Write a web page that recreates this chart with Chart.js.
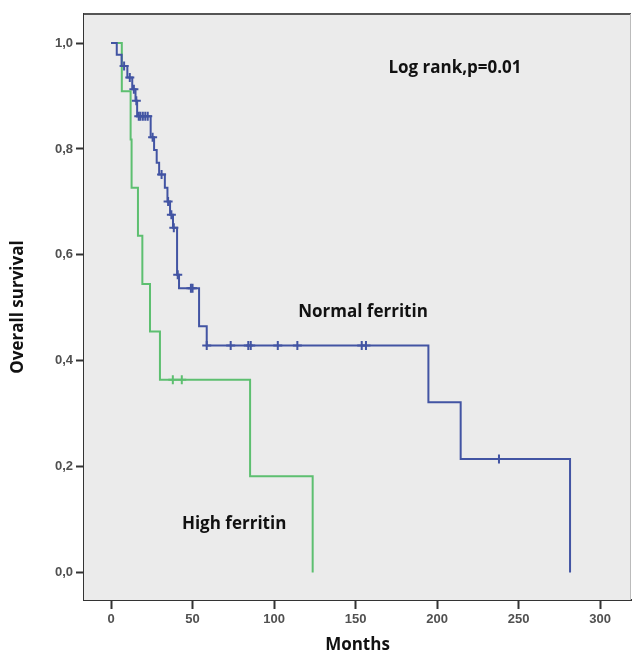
<!DOCTYPE html>
<html>
<head>
<meta charset="utf-8">
<script src="https://cdn.jsdelivr.net/npm/chart.js@4"></script>
<style>
  html, body { margin: 0; padding: 0; background: #fff; }
  #wrap { width: 632px; height: 655px; }
</style>
</head>
<body>
<div id="wrap"><canvas id="canvas" width="632" height="655"></canvas></div>
<script>
// Kaplan-Meier steps (months, survival after the event)
var normalT = [0, 3.5, 6.5, 10, 13, 15, 16, 24.3, 26.4, 28, 29.5, 33, 34.6, 36.2, 38, 40.5, 41.7, 54, 58.7, 194.7, 214.5, 281.6];
var normalS = [1.0, 0.978, 0.957, 0.935, 0.913, 0.891, 0.862, 0.822, 0.798, 0.774, 0.752, 0.727, 0.701, 0.676, 0.651, 0.5625, 0.537, 0.465, 0.429, 0.3215, 0.2145, 0];
var normalCensT = [8, 11.5, 14, 15.5, 17, 18, 19.5, 21, 22.5, 25.5, 31, 35, 37, 38.5, 40.9, 49, 50, 58.7, 73.4, 84.2, 85.7, 102.3, 114.3, 153.8, 156.4, 238];
var normalCensS = [0.957, 0.935, 0.913, 0.891, 0.862, 0.862, 0.862, 0.862, 0.862, 0.822, 0.752, 0.701, 0.676, 0.651, 0.5625, 0.537, 0.537, 0.429, 0.429, 0.429, 0.429, 0.429, 0.429, 0.429, 0.429, 0.2145];

var highT = [0, 6.6, 12, 12.6, 16.5, 19.2, 23.9, 30, 85.3, 123.7];
var highS = [1.0, 0.909, 0.818, 0.727, 0.636, 0.545, 0.455, 0.364, 0.182, 0];
var highCensT = [37.9, 43.4];
var highCensS = [0.364, 0.364];

var xTicks = [0, 50, 100, 150, 200, 250, 300];
var yTicks = [0, 0.2, 0.4, 0.6, 0.8, 1.0];

var notes = ['Log rank,p=0.01', 'Normal ferritin', 'High ferritin'];

var blue = '#4254a3';
var green = '#5dbf70';

function pts(t, s) {
    var out = [];
    for (var i = 0; i < t.length; i++) out.push({x: t[i], y: s[i]});
    return out;
}

// plot background, frame and the text notes
var decor = {
    id: 'decor',
    beforeDatasetsDraw: function(chart) {
        var a = chart.chartArea, ctx = chart.ctx;
        ctx.save();
        ctx.fillStyle = '#ebebeb';
        ctx.fillRect(a.left, a.top, a.right - a.left, a.bottom - a.top);
        ctx.strokeStyle = '#555';
        ctx.lineWidth = 2;
        ctx.beginPath();
        ctx.moveTo(a.left, a.top);
        ctx.lineTo(a.right, a.top);
        ctx.stroke();
        ctx.strokeStyle = '#bbb';
        ctx.lineWidth = 1;
        ctx.beginPath();
        ctx.moveTo(a.right - 0.5, a.top);
        ctx.lineTo(a.right - 0.5, a.bottom);
        ctx.stroke();
        ctx.restore();
    },
    afterDatasetsDraw: function(chart) {
        var ctx = chart.ctx, xs = chart.scales.x, ys = chart.scales.y;
        var pos = [[211, 0.953], [154.6, 0.492], [75.5, 0.092]];
        ctx.save();
        ctx.fillStyle = '#111';
        ctx.font = 'bold 17px "Open Sans"';
        ctx.textAlign = 'center';
        ctx.textBaseline = 'middle';
        for (var i = 0; i < notes.length; i++) {
            ctx.fillText(notes[i], xs.getPixelForValue(pos[i][0]), ys.getPixelForValue(pos[i][1]));
        }
        ctx.restore();
    }
};

var tickFont = {family: '"Liberation Sans"', size: 13, weight: 'bold'};
var titleFont = {family: '"Open Sans"', size: 17, weight: 'bold'};

var ctx = document.getElementById('canvas').getContext('2d');
window.myChart = new Chart(ctx, {
    type: 'line',
    data: {
        datasets: [
            {label: 'Normal ferritin', data: pts(normalT, normalS), stepped: true, borderColor: blue, borderWidth: 2, pointRadius: 0, fill: false},
            {label: 'High ferritin', data: pts(highT, highS), stepped: true, borderColor: green, borderWidth: 2, pointRadius: 0, fill: false},
            {label: 'Normal censored', data: pts(normalCensT, normalCensS), showLine: false, pointStyle: 'cross', pointRadius: 4.5, borderColor: blue, borderWidth: 2},
            {label: 'High censored', data: pts(highCensT, highCensS), showLine: false, pointStyle: 'cross', pointRadius: 4.5, borderColor: green, borderWidth: 2}
        ]
    },
    options: {
        responsive: false,
        animation: false,
        layout: {autoPadding: false, padding: {top: 14, right: 1, left: 0, bottom: 0}},
        plugins: {legend: {display: false}, tooltip: {enabled: false}},
        scales: {
            x: {
                type: 'linear',
                min: -16.6,
                max: 319,
                afterBuildTicks: function(s) { s.ticks = xTicks.map(function(v) { return {value: v}; }); },
                afterFit: function(s) { s.height = 55; s.paddingLeft = 0; s.paddingRight = 0; },
                ticks: {color: '#505050', font: tickFont, padding: 3, maxRotation: 0},
                grid: {drawOnChartArea: false, tickLength: 9, tickColor: '#333', tickWidth: 2},
                border: {color: '#333', width: 2},
                title: {display: true, text: 'Months', color: '#111', font: titleFont, padding: {top: 0, bottom: 0}}
            },
            y: {
                min: -0.052,
                max: 1.055,
                afterBuildTicks: function(s) { s.ticks = yTicks.map(function(v) { return {value: v}; }); },
                afterFit: function(s) { s.width = 84; s.paddingTop = 0; s.paddingBottom = 0; },
                ticks: {
                    color: '#505050', font: tickFont, padding: 3,
                    callback: function(v) { return v.toFixed(1).replace('.', ','); }
                },
                grid: {drawOnChartArea: false, tickLength: 8, tickColor: '#333', tickWidth: 2},
                border: {color: '#333', width: 2},
                title: {display: true, text: 'Overall survival', color: '#111', font: titleFont, padding: {top: 8, bottom: 0}}
            }
        }
    },
    plugins: [decor]
});
</script>
</body>
</html>
